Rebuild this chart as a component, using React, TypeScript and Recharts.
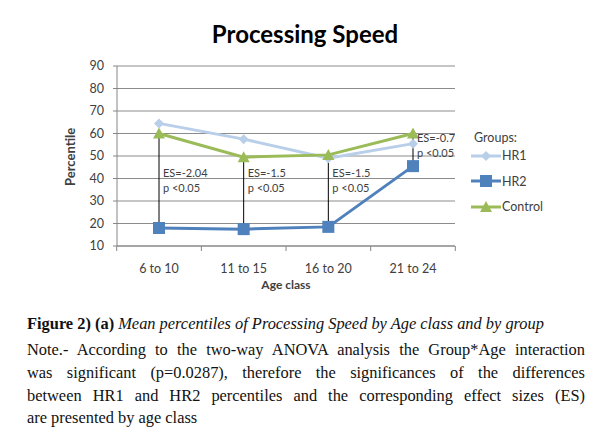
import React from 'react'
import {
  LineChart,
  Line,
  XAxis,
  YAxis,
  CartesianGrid,
  ReferenceLine,
  ReferenceDot,
} from 'recharts'

const categories = ['6 to 10', '11 to 15', '16 to 20', '21 to 24']
const hr1 = [64.5, 57.5, 49, 55.5]
const hr2 = [18, 17.5, 18.5, 45.5]
const control = [60, 49.5, 50.5, 60]
const esLabels = ['ES=-2.04', 'ES=-1.5', 'ES=-1.5', 'ES=-0.7']
const pLabels = ['p <0.05', 'p <0.05', 'p <0.05', 'p <0.05']
const labelAt = [42.5, 42.5, 42.5, 58]
const yTicks = [10, 20, 30, 40, 50, 60, 70, 80, 90]

const HR1_COLOR = '#b9cfe9'
const HR2_COLOR = '#4f81bd'
const CONTROL_COLOR = '#9bbb59'
const FONT = 'Lato, "Open Sans", sans-serif'

const data = categories.map((name, i) => ({
  name,
  HR1: hr1[i],
  HR2: hr2[i],
  Control: control[i],
}))

const Diamond = (props: any) => {
  const { cx, cy } = props
  if (cx == null || cy == null) return null
  return <path d={`M${cx},${cy - 5}L${cx + 5},${cy}L${cx},${cy + 5}L${cx - 5},${cy}Z`} fill={HR1_COLOR} />
}

const Square = (props: any) => {
  const { cx, cy } = props
  if (cx == null || cy == null) return null
  return <rect x={cx - 6} y={cy - 6} width={12} height={12} fill={HR2_COLOR} />
}

const Triangle = (props: any) => {
  const { cx, cy } = props
  if (cx == null || cy == null) return null
  return <path d={`M${cx},${cy - 6}L${cx + 6},${cy + 5}L${cx - 6},${cy + 5}Z`} fill={CONTROL_COLOR} />
}

const XTick = (props: any) => {
  const { x, y, payload, index } = props
  const half = 42.3
  return (
    <g>
      <line x1={x - half} x2={x - half} y1={y} y2={y + 5} stroke="#868686" />
      {index === categories.length - 1 && (
        <line x1={x + half} x2={x + half} y1={y} y2={y + 5} stroke="#868686" />
      )}
      <text x={x} y={y + 27} textAnchor="middle" fontSize={12.5} fill="#404040" fontFamily={FONT}>
        {payload.value}
      </text>
    </g>
  )
}

const LegendBox = () => {
  const items = [
    { name: 'HR1', color: HR1_COLOR, marker: <path d="M15,1L20,6L15,11L10,6Z" fill={HR1_COLOR} /> },
    { name: 'HR2', color: HR2_COLOR, marker: <rect x={9} y={0} width={12} height={12} fill={HR2_COLOR} /> },
    { name: 'Control', color: CONTROL_COLOR, marker: <path d="M15,0L21,11L9,11Z" fill={CONTROL_COLOR} /> },
  ]
  return (
    <div style={{ fontFamily: FONT, fontSize: 12.5, color: '#404040' }}>
      <div style={{ marginLeft: 3, height: 13, lineHeight: '15px' }}>Groups:</div>
      {items.map(it => (
        <div key={it.name} style={{ display: 'flex', alignItems: 'center', height: 25.5 }}>
          <svg width={30} height={12} style={{ marginRight: 1 }}>
            <line x1={0} x2={30} y1={6} y2={6} stroke={it.color} strokeWidth={3} />
            {it.marker}
          </svg>
          <span>{it.name}</span>
        </div>
      ))}
    </div>
  )
}

const AnnotationLabel = (i: number) => (props: any) => {
  const { viewBox } = props
  if (!viewBox) return null
  const x = viewBox.cx ?? viewBox.x
  const y = viewBox.cy ?? viewBox.y
  return (
    <g fontFamily={FONT} fontSize={11} fill="#404040">
      <text x={x + 4} y={y + 4}>{esLabels[i]}</text>
      <text x={x + 4} y={y + 19}>{pLabels[i]}</text>
    </g>
  )
}

const lineStyle = { textAlign: 'justify' as const, textAlignLast: 'justify' as const }

export default function App() {
  return (
    <div style={{ width: 590, position: 'relative' }}>
      <LineChart
        width={590}
        height={300}
        data={data}
        margin={{ top: 58, right: 143, bottom: 32, left: 0 }}
      >
        <text x={297} y={35} textAnchor="middle" fontFamily={FONT} fontWeight="bold" fontSize={24} fill="#000">
          Processing Speed
        </text>
        <CartesianGrid vertical={false} stroke="#8c8c8c" strokeWidth={1} />
        <XAxis
          dataKey="name"
          height={30}
          padding={{ left: 42, right: 42 }}
          tickSize={0}
          tickMargin={0}
          tickLine={false}
          stroke="#868686"
          tick={<XTick />}
          interval={0}
          label={{ value: 'Age class', position: 'insideBottom', offset: -13, fontFamily: FONT, fontWeight: 'bold', fontSize: 12, fill: '#404040' }}
        />
        <YAxis
          domain={[10, 90]}
          ticks={yTicks}
          interval={0}
          width={109}
          stroke="#868686"
          tickSize={4}
          tickMargin={9}
          tick={{ fontFamily: FONT, fontSize: 12.5, fill: '#404040' }}
          label={{ value: 'Percentile', angle: -90, position: 'insideLeft', offset: 62, dy: 30, fontFamily: FONT, fontWeight: 'bold', fontSize: 13, fill: '#404040' }}
        />
        {categories.map((c, i) => (
          <ReferenceLine
            key={'seg' + c}
            segment={[{ x: c, y: control[i] }, { x: c, y: hr2[i] }]}
            stroke="#000"
            strokeWidth={1}
          />
        ))}
        <Line dataKey="HR1" stroke={HR1_COLOR} strokeWidth={3} dot={<Diamond />} activeDot={false} isAnimationActive={false} />
        <Line dataKey="HR2" stroke={HR2_COLOR} strokeWidth={3} dot={<Square />} activeDot={false} isAnimationActive={false} />
        <Line dataKey="Control" stroke={CONTROL_COLOR} strokeWidth={3} dot={<Triangle />} activeDot={false} isAnimationActive={false} />
        {categories.map((c, i) => (
          <ReferenceDot
            key={'lab' + c}
            x={c}
            y={labelAt[i]}
            r={0}
            fill="none"
            stroke="none"
            label={{ content: AnnotationLabel(i) }}
          />
        ))}
      </LineChart>
      <div style={{ position: 'absolute', top: 122, left: 463, width: 120 }}>
        <LegendBox />
      </div>
      <div style={{ fontFamily: '"Liberation Serif", "DejaVu Serif", serif', fontSize: 16.4, color: '#111', paddingLeft: 19, width: 558, marginTop: 4 }}>
        <div style={{ lineHeight: '24px' }}>
          <b>Figure 2) (a)</b> <i>Mean percentiles of Processing Speed by Age class and by group</i>
        </div>
        <div style={{ lineHeight: '22.8px', marginTop: 3 }}>
          <div style={lineStyle}>Note.- According to the two-way ANOVA analysis the Group*Age interaction</div>
          <div style={lineStyle}>was significant (p=0.0287), therefore the significances of the differences</div>
          <div style={lineStyle}>between HR1 and HR2 percentiles and the corresponding effect sizes (ES)</div>
          <div>are presented by age class</div>
        </div>
      </div>
    </div>
  )
}
